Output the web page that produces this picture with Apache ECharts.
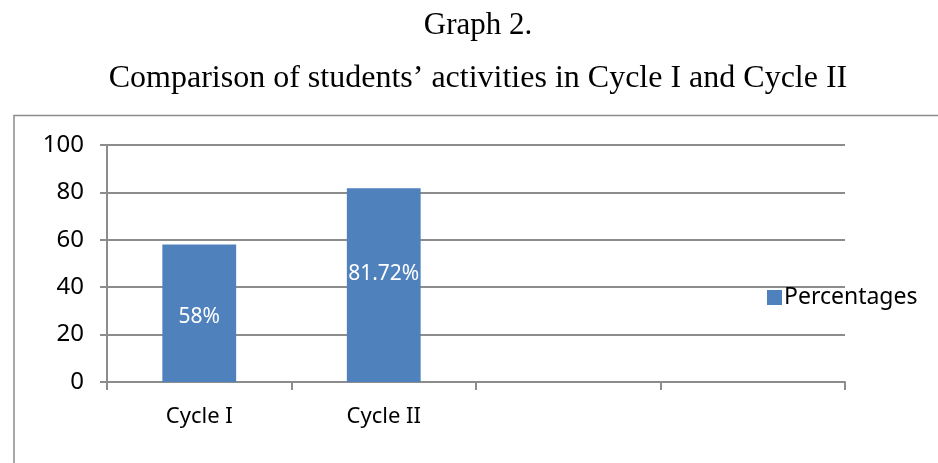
<!DOCTYPE html>
<html>
<head>
<meta charset="utf-8">
<script src="https://cdn.jsdelivr.net/npm/echarts@6/dist/echarts.min.js"></script>
<style>html,body{margin:0;padding:0;background:#fff;}#c{width:938px;height:463px;}</style>
</head>
<body>
<div id="c"></div>
<script>
var titleLine1 = 'Graph 2.';
var titleLine2 = 'Comparison of students\u2019 activities in Cycle I and Cycle II';
var categories = ['Cycle I', 'Cycle II', '', ''];
var seriesName = 'Percentages';
var values = [58, 81.72];
var yTicks = { min: 0, max: 100, interval: 20 };

var labelOffsets = [[0, 4], [0, -11]];
var chart = echarts.init(document.getElementById('c'), null, { renderer: 'canvas' });
var sans = '"Noto Sans", "Open Sans", sans-serif';
var serif = '"Liberation Serif", "Times New Roman", serif';
var gridColor = '#8c8c8c';

chart.setOption({
  animation: false,
  backgroundColor: '#ffffff',
  graphic: [
    { type: 'rect', shape: { x: 14, y: 115.5, width: 1000, height: 1000 },
      style: { fill: 'none', stroke: '#8c8c8c', lineWidth: 1.5 }, z: -1 },
    { type: 'text', x: 478, y: 26, style: { text: titleLine1, font: '31px ' + serif, fill: '#000', textAlign: 'center', textVerticalAlign: 'middle' } },
    { type: 'text', x: 478, y: 79, style: { text: titleLine2, font: '32px ' + serif, fill: '#000', textAlign: 'center', textVerticalAlign: 'middle' } }
  ],
  legend: {
    data: [seriesName],
    left: 762, top: 281,
    icon: 'rect', itemWidth: 15, itemHeight: 15, itemGap: 0,
    textStyle: { fontFamily: sans, fontSize: 23, color: '#000', padding: [0, 0, 0, -3] }
  },
  grid: { left: 107, right: 93, top: 145, bottom: 81, containLabel: false },
  xAxis: {
    type: 'category',
    data: categories,
    boundaryGap: true,
    axisLine: { show: true, lineStyle: { color: gridColor, width: 2 } },
    axisTick: { show: true, length: 8, interval: 0, alignWithLabel: false, lineStyle: { color: gridColor, width: 2 } },
    axisLabel: { fontFamily: sans, fontSize: 22, color: '#000', margin: 24, interval: 0 },
    splitLine: { show: false }
  },
  yAxis: {
    type: 'value',
    min: yTicks.min, max: yTicks.max, interval: yTicks.interval,
    axisLine: { show: true, lineStyle: { color: gridColor, width: 2 } },
    axisTick: { show: true, length: 7, lineStyle: { color: gridColor, width: 2 } },
    axisLabel: { fontFamily: sans, fontSize: 24, color: '#000', margin: 23 },
    splitLine: { show: true, lineStyle: { color: gridColor, width: 2 } }
  },
  series: [{
    name: seriesName,
    type: 'bar',
    barWidth: '40%',
    itemStyle: { color: '#4f81bd' },
    data: values.map(function (v, i) {
      return { value: v, label: { offset: labelOffsets[i] } };
    }),
    label: {
      show: true, position: 'inside',
      formatter: '{c}%',
      fontFamily: sans, fontSize: 21, color: '#ffffff'
    }
  }]
});
</script>
</body>
</html>
